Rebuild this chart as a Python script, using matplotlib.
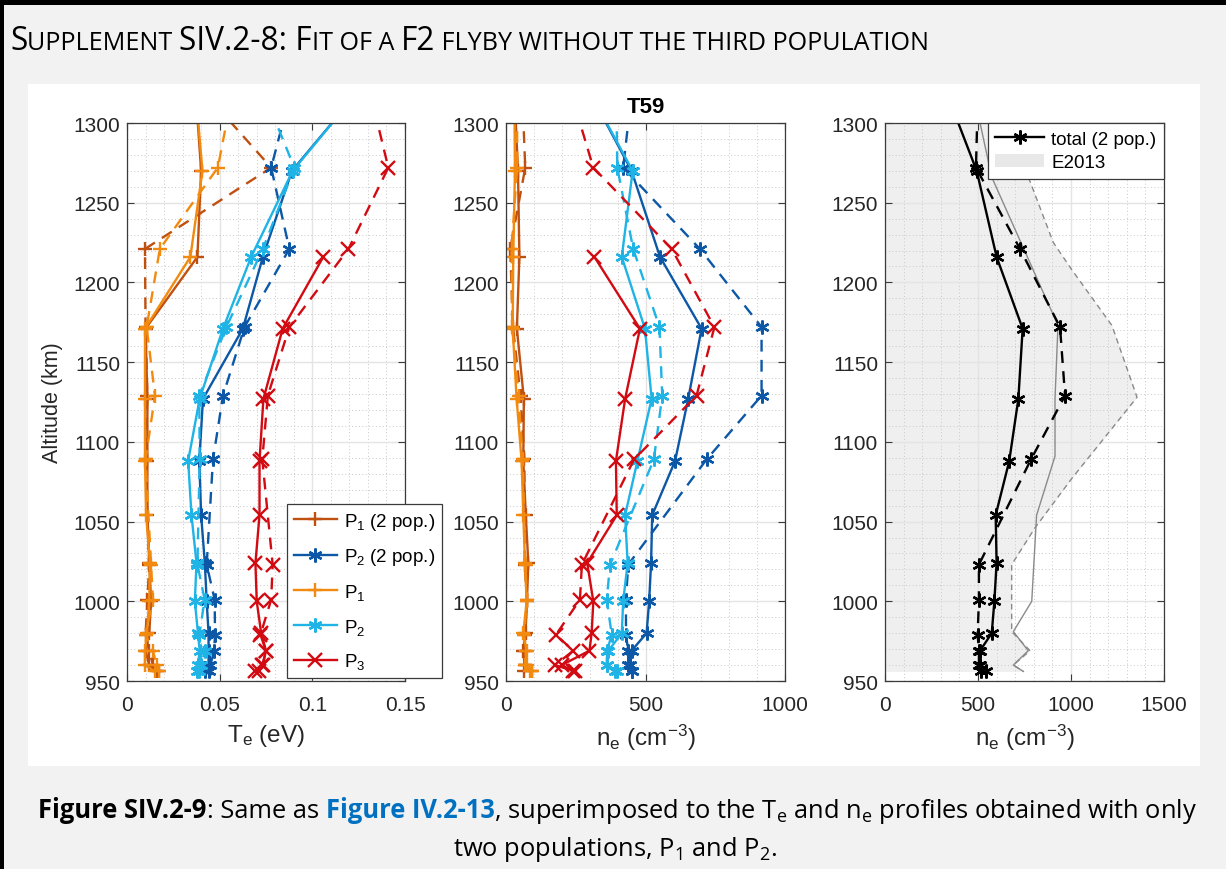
import numpy as np
import matplotlib
matplotlib.use("Agg")
import matplotlib.pyplot as plt
from matplotlib.ticker import MultipleLocator, FuncFormatter
from matplotlib.patches import Rectangle, Patch
from matplotlib.lines import Line2D
from matplotlib import font_manager

nan = np.nan

# altitudes (km) of the two legs: solid = inbound, dashed = outbound
alt_sol = [1320, 1270, 1216, 1171, 1127, 1088, 1054, 1024, 1000, 980, 969, 960, 956]
alt_das = [1320, 1272, 1221, 1172, 1129, 1089, 1023, 1001, 979, 969, 960, 956]

# Te (eV), fit with 2 populations
te_p1_2_sol = [0.037, 0.040, 0.038, 0.010, 0.011, 0.011, 0.011, 0.012, 0.013, 0.012, 0.010, 0.012, 0.016]
te_p1_2_das = [0.041, 0.0778, 0.0097, 0.010, 0.011, 0.010, 0.012, 0.011, 0.010, 0.012, 0.014, 0.017]
te_p2_2_sol = [0.125, 0.089, 0.0733, 0.0625, 0.041, 0.039, 0.040, 0.042, 0.043, 0.044, 0.044, 0.044, 0.042]
te_p2_2_das = [0.0885, 0.0778, 0.0876, 0.0634, 0.0518, 0.0464, 0.043, 0.0473, 0.0475, 0.047, 0.045, 0.044]
# Te (eV), fit with 3 populations
te_p1_sol = [0.037, 0.0407, 0.0342, 0.0097, 0.0097, 0.0097, 0.0103, 0.0124, 0.012, 0.0107, 0.0097, 0.0097, 0.015]
te_p1_das = [0.057, 0.049, 0.0177, 0.0106, 0.0151, 0.010, 0.013, 0.014, 0.010, 0.014, 0.016, 0.017]
te_p2_sol = [0.125, 0.0894, 0.067, 0.0518, 0.0392, 0.033, 0.0348, 0.0375, 0.0366, 0.0383, 0.0392, 0.0383, 0.0375]
te_p2_das = [0.0735, 0.0903, 0.0733, 0.0536, 0.039, 0.0392, 0.038, 0.0419, 0.039, 0.042, 0.040, 0.039]
te_p3_sol = [nan, nan, 0.1059, 0.084, 0.0736, 0.0715, 0.0715, 0.0693, 0.070, 0.0724, 0.075, 0.0733, 0.0693]
te_p3_das = [0.131, 0.141, 0.1195, 0.0876, 0.076, 0.073, 0.0786, 0.0778, 0.072, 0.075, 0.073, 0.071]

# ne (cm-3), fit with 2 populations
ne_p1_2_sol = [30, 43, 48, 39, 64, 62, 71, 80, 75, 70, 61, 67, 93]
ne_p1_2_das = [58, 69, 15, 25, 52, 66, 67, 75, 68, 67, 67, 65]
ne_p2_2_sol = [298, 450, 552, 701, 653, 606, 524, 520, 513, 504, 450, 444, 450]
ne_p2_2_das = [451, 420, 695, 916, 916, 719, 438, 430, 430, 438, 438, 450]
# ne (cm-3), fit with 3 populations
ne_p1_sol = [30, 32, 26, 24, 38, 56, 62, 68, 74, 62, 74, 68, 92]
ne_p1_das = [40, 40, 20, 22, 45, 60, 70, 75, 65, 70, 75, 85]
ne_p2_sol = [299, 454, 415, 498, 522, 471, 427, 436, 420, 415, 367, 361, 397]
ne_p2_das = [395, 399, 456, 550, 560, 530, 373, 361, 379, 362, 361, 391]
ne_p3_sol = [nan, nan, 317, 480, 427, 394, 397, 291, 313, 307, 299, 200, 240]
ne_p3_das = [231, 313, 594, 747, 683, 459, 272, 265, 179, 241, 176, 247]

# total density, 2 populations
ne_tot_sol = [328, 493, 600, 740, 717, 668, 595, 600, 588, 574, 511, 511, 543]
ne_tot_das = [500, 489, 726, 941, 968, 785, 505, 505, 498, 505, 505, 515]

# E2013 reference
e_alt = [1300, 1266, 1225, 1208, 1173, 1128, 1077, 1046, 1023, 981, 969, 960, 956]
e_upper = [660, 771, 905, 1004, 1220, 1355, 1004, 806, 681, 681, 780, 690, 744]
e_mid_alt = [1300, 1266, 1173, 1127, 1091, 1054, 1000, 981, 969, 960, 956]
e_mid = [511, 574, 930, 914, 914, 815, 789, 690, 770, 690, 744]

labels = ["P$_1$ (2 pop.)", "P$_2$ (2 pop.)", "P$_1$", "P$_2$", "P$_3$"]
colors = ["#C0500F", "#0C57A6", "#F28A10", "#1FB3E6", "#D20A12"]
markers = ["+", (6, 2, 0), "+", (6, 2, 0), "x"]

W, H = 1226, 870
names = {f.name for f in font_manager.fontManager.ttflist}
narrow = "Liberation Sans Narrow" if "Liberation Sans Narrow" in names else "Open Sans"

plt.rcParams["font.family"] = ["Liberation Sans", "DejaVu Sans"]
plt.rcParams["mathtext.fontset"] = "custom"
plt.rcParams["mathtext.rm"] = "Liberation Sans"
plt.rcParams["mathtext.it"] = "Liberation Sans:italic"
plt.rcParams["mathtext.bf"] = "Liberation Sans:bold"

fig = plt.figure(figsize=(W / 100, H / 100), dpi=100)
fig.patch.set_facecolor("#f2f2f2")
# white plot area and black frame of the page
fig.patches.append(Rectangle((28 / W, 1 - 767 / H), 1172 / W, 682 / H, transform=fig.transFigure,
                             facecolor="white", edgecolor="none", zorder=-1))
fig.patches.append(Rectangle((0, 1 - 6 / H), 1, 6 / H, transform=fig.transFigure,
                             facecolor="black", edgecolor="none", zorder=-1))
fig.patches.append(Rectangle((0, 0), 4 / W, 1, transform=fig.transFigure,
                             facecolor="black", edgecolor="none", zorder=-1))

bot = 1 - 682 / H
hgt = 558 / H
ax1 = fig.add_axes([127 / W, bot, 278 / W, hgt])
ax2 = fig.add_axes([506 / W, bot, 279 / W, hgt])
ax3 = fig.add_axes([885 / W, bot, 279 / W, hgt])


def setup(ax, xmax, xmaj, xmin):
    ax.set_xlim(0, xmax)
    ax.set_ylim(950, 1300)
    ax.xaxis.set_major_locator(MultipleLocator(xmaj))
    ax.xaxis.set_minor_locator(MultipleLocator(xmin))
    ax.yaxis.set_major_locator(MultipleLocator(50))
    ax.yaxis.set_minor_locator(MultipleLocator(10))
    ax.xaxis.set_major_formatter(FuncFormatter(lambda v, p: "%g" % round(v, 4)))
    ax.grid(which="major", color="#e4e4e4", lw=1.0)
    ax.grid(which="minor", color="#c8c8c8", lw=0.7, ls=(0, (1, 2.5)))
    ax.tick_params(which="both", direction="in", top=True, right=True, labelsize=15,
                   color="#3a3a3a", labelcolor="#262626")
    ax.tick_params(which="major", length=5, width=0.8)
    ax.tick_params(which="minor", length=0)
    ax.tick_params(axis="x", pad=10)
    ax.tick_params(axis="y", pad=5)
    for s in ax.spines.values():
        s.set_color("#3a3a3a")
        s.set_linewidth(0.9)


def profile(ax, xs, xd, color, marker, label):
    ax.plot(xs, alt_sol, color=color, marker=marker, lw=1.7, ms=10, mew=1.7, label=label)
    ax.plot(xd, alt_das, color=color, marker=marker, lw=1.7, ms=10, mew=1.7, ls="--", dashes=(5, 3.5))


te_sets = [(te_p1_2_sol, te_p1_2_das), (te_p2_2_sol, te_p2_2_das), (te_p1_sol, te_p1_das),
           (te_p2_sol, te_p2_das), (te_p3_sol, te_p3_das)]
ne_sets = [(ne_p1_2_sol, ne_p1_2_das), (ne_p2_2_sol, ne_p2_2_das), (ne_p1_sol, ne_p1_das),
           (ne_p2_sol, ne_p2_das), (ne_p3_sol, ne_p3_das)]

setup(ax1, 0.15, 0.05, 0.01)
for (xs, xd), c, m, lab in zip(te_sets, colors, markers, labels):
    profile(ax1, xs, xd, c, m, lab)
ax1.set_xlabel("T$_\\mathrm{e}$ (eV)", fontsize=17.5, color="#262626", labelpad=6)
ax1.set_ylabel("Altitude (km)", fontsize=15.5, color="#262626", labelpad=7)
leg1 = ax1.legend(loc="upper left", bbox_to_anchor=(0.576, 0.317), fontsize=13.5, frameon=True,
                  fancybox=False, framealpha=1, edgecolor="#3a3a3a", borderaxespad=0,
                  handlelength=2.3, labelspacing=0.78, borderpad=0.35, handletextpad=0.4)
leg1.get_frame().set_linewidth(0.9)

setup(ax2, 1000, 500, 100)
for (xs, xd), c, m, lab in zip(ne_sets, colors, markers, labels):
    profile(ax2, xs, xd, c, m, lab)
ax2.set_xlabel("n$_\\mathrm{e}$ (cm$^{-3}$)", fontsize=17.5, color="#262626", labelpad=6)
ax2.set_title("T59", fontsize=16, fontweight="bold", pad=8)

setup(ax3, 1500, 500, 100)
ax3.fill_betweenx(e_alt, 0, e_upper, color="#efefef", lw=0, zorder=1)
ax3.plot(e_upper, e_alt, color="#8a8a8a", lw=1.0, ls="--", dashes=(4, 3))
ax3.plot(e_mid, e_mid_alt, color="#8a8a8a", lw=1.0)
ax3.plot(ne_tot_sol, alt_sol, color="black", marker=(6, 2, 0), lw=1.7, ms=10, mew=1.7)
ax3.plot(ne_tot_das, alt_das, color="black", marker=(6, 2, 0), lw=1.7, ms=10, mew=1.7,
         ls="--", dashes=(5, 3.5))
ax3.set_xlabel("n$_\\mathrm{e}$ (cm$^{-3}$)", fontsize=17.5, color="#262626", labelpad=6)
h_tot = Line2D([], [], color="black", marker=(6, 2, 0), lw=1.7, ms=10, mew=1.7)
h_e = Patch(facecolor="#e8e8e8", edgecolor="none")
leg3 = ax3.legend([h_tot, h_e], ["total (2 pop.)", "E2013"], loc="upper right", fontsize=13.5,
                  fancybox=False, framealpha=1, edgecolor="#3a3a3a", borderaxespad=0,
                  handlelength=2.6, labelspacing=0.35, borderpad=0.4, handletextpad=0.4)
leg3.get_frame().set_linewidth(0.9)

# page texts, drawn piece by piece
rend = fig.canvas.get_renderer()


def run_width(s, kw):
    t1 = fig.text(0, 0, "|" + s + "|", **kw)
    t2 = fig.text(0, 0, "||", **kw)
    w = t1.get_window_extent(rend).width - t2.get_window_extent(rend).width
    t1.remove()
    t2.remove()
    return w


def put_runs(runs, x, y, width=None, k=None, center=False):
    if k is None:
        k = 1.0
        if width is not None:
            tot = sum(run_width(s, kw) for s, kw in runs)
            k = width / tot
    cx = 0
    parts = []
    for s, kw in runs:
        kk = dict(kw, fontsize=kw["fontsize"] * k)
        parts.append((cx, s, kk))
        cx += run_width(s, kk)
    x0 = x - cx / 2 if center else x
    for dx, s, kk in parts:
        fig.text((x0 + dx) / W, 1 - y / H, s, va="baseline", ha="left", **kk)
    return k


big = dict(fontsize=22, family=[narrow, "DejaVu Sans"], color="black")
small = dict(fontsize=17.5, family=[narrow, "DejaVu Sans"], color="black")
put_runs([("S", big), ("UPPLEMENT ", small), ("SIV.2-8: F", big), ("IT OF A ", small),
          ("F2", big), (" FLYBY WITHOUT THE THIRD POPULATION", small)], 10, 50, width=915)

cap = dict(fontsize=16, family=[narrow, "DejaVu Sans"], color="black")
capb = dict(cap, fontweight="bold")
capl = dict(capb, color="#0070C0")
k = put_runs([("Figure SIV.2-9", capb), (": Same as ", cap), ("Figure IV.2-13", capl),
              (", superimposed to the T$_\\mathregular{e}$ and n$_\\mathregular{e}$ profiles obtained with only", cap)],
             615, 818, width=1156, center=True)
put_runs([("two populations, P$_\\mathregular{1}$ and P$_\\mathregular{2}$.", cap)], 613, 856, k=k, center=True)

fig.savefig("out.png", dpi=100, facecolor=fig.get_facecolor())
